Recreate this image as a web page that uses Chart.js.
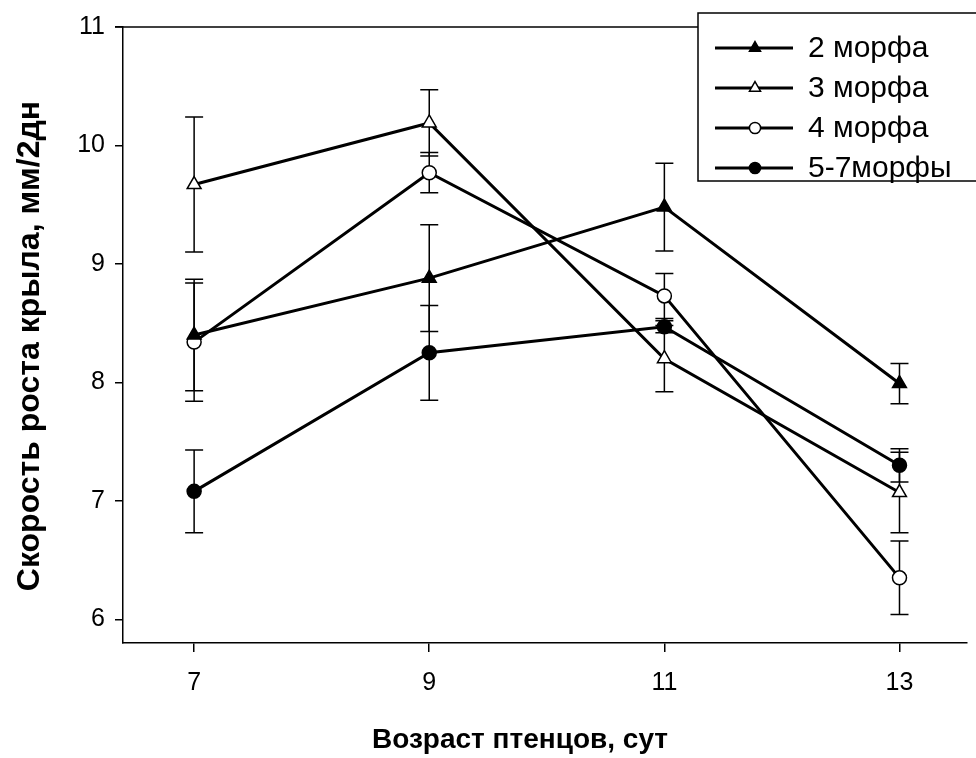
<!DOCTYPE html>
<html>
<head>
<meta charset="utf-8">
<script src="https://cdn.jsdelivr.net/npm/chart.js@4"></script>
<style>
  html, body { margin: 0; padding: 0; background: #fff; overflow: hidden; }
  #wrap { width: 976px; height: 758px; }
</style>
</head>
<body>
<div id="wrap"><canvas id="myChart" width="976" height="758"></canvas></div>
<script>
// ages (days) and wing growth rate, mm / 2 days
var ages = [7, 9, 11, 13];
var morph2 = [8.40, 8.88, 9.48, 7.99];
var morph2Err = [0.47, 0.45, 0.37, 0.17];
var morph3 = [9.67, 10.19, 8.20, 7.07];
var morph3Err = [0.57, 0.28, 0.28, 0.34];
var morph4 = [8.34, 9.77, 8.73, 6.35];
var morph4Err = [0.50, 0.17, 0.19, 0.31];
var morph57 = [7.08, 8.25, 8.47, 7.30];
var morph57Err = [0.35, 0.40, 0.05, 0.14];
var labels = ['2 морфа', '3 морфа', '4 морфа', '5-7морфы'];
var xTicks = [7, 9, 11, 13];
var yTicks = [6, 7, 8, 9, 10, 11];

var font = "'Liberation Sans', Arial, sans-serif";

function pts(vals) {
    return vals.map(function(v, i) { return { x: ages[i], y: v }; });
}

function makeSet(label, vals, errs, style, filled, radius) {
    return {
        label: label,
        data: pts(vals),
        errors: errs,
        borderColor: '#000',
        borderWidth: 3,
        pointStyle: style,
        pointRadius: radius,
        pointHoverRadius: radius,
        pointBorderWidth: 1.5,
        pointBackgroundColor: filled ? '#000' : '#fff',
        pointBorderColor: '#000',
        fill: false,
        tension: 0
    };
}

// error bars drawn under the markers
var errorBars = {
    id: 'errorBars',
    beforeDatasetsDraw: function(chart) {
        var ctx = chart.ctx;
        var xs = chart.scales.x, ys = chart.scales.y;
        ctx.save();
        ctx.strokeStyle = '#000';
        ctx.lineWidth = 1.5;
        chart.data.datasets.forEach(function(ds) {
            ds.data.forEach(function(p, i) {
                var e = ds.errors[i];
                var px = xs.getPixelForValue(p.x);
                var top = ys.getPixelForValue(p.y + e);
                var bot = ys.getPixelForValue(p.y - e);
                ctx.beginPath();
                ctx.moveTo(px, top); ctx.lineTo(px, bot);
                ctx.moveTo(px - 9, top); ctx.lineTo(px + 9, top);
                ctx.moveTo(px - 9, bot); ctx.lineTo(px + 9, bot);
                ctx.stroke();
            });
        });
        ctx.restore();
    }
};

// frame top line, axis titles and boxed legend
var extras = {
    id: 'extras',
    afterDraw: function(chart) {
        var ctx = chart.ctx;
        var a = chart.chartArea;
        ctx.save();
        ctx.strokeStyle = '#000';
        ctx.lineWidth = 1.5;
        ctx.beginPath();
        ctx.moveTo(a.left - 8, a.top); ctx.lineTo(a.right, a.top);
        ctx.stroke();

        ctx.fillStyle = '#000';
        ctx.font = 'bold 28px ' + font;
        ctx.textAlign = 'center';
        ctx.textBaseline = 'middle';
        ctx.fillText('Возраст птенцов, сут', 520, 740);
        ctx.font = 'bold 32px ' + font;
        ctx.translate(30, 346);
        ctx.rotate(-Math.PI / 2);
        ctx.fillText('Скорость роста крыла, мм/2дн', 0, 0);
        ctx.restore();

        // legend
        ctx.save();
        ctx.fillStyle = '#fff';
        ctx.fillRect(698, 13, 290, 168);
        ctx.strokeStyle = '#000';
        ctx.lineWidth = 1.5;
        ctx.strokeRect(698, 13, 290, 168);
        ctx.font = '30px ' + font;
        ctx.textAlign = 'left';
        ctx.textBaseline = 'middle';
        var rows = [48, 88, 128, 168];
        chart.data.datasets.forEach(function(ds, i) {
            var y = rows[i];
            ctx.strokeStyle = '#000';
            ctx.lineWidth = 3;
            ctx.beginPath();
            ctx.moveTo(715, y); ctx.lineTo(793, y);
            ctx.stroke();
            ctx.fillStyle = ds.pointBackgroundColor;
            ctx.strokeStyle = '#000';
            ctx.lineWidth = 1.5;
            Chart.helpers.drawPoint(ctx, {
                pointStyle: ds.pointStyle,
                radius: ds.pointRadius * 0.8,
                borderWidth: 1.5
            }, 755, y);
            ctx.fillStyle = '#000';
            ctx.fillText(ds.label, 808, y + 1);
        });
        ctx.restore();
    }
};

var chr = document.getElementById('myChart').getContext('2d');
var myChart = new Chart(chr, {
    type: 'line',
    data: {
        datasets: [
            makeSet(labels[0], morph2, morph2Err, 'triangle', true, 8),
            makeSet(labels[1], morph3, morph3Err, 'triangle', false, 8),
            makeSet(labels[2], morph4, morph4Err, 'circle', false, 7),
            makeSet(labels[3], morph57, morph57Err, 'circle', true, 7)
        ]
    },
    options: {
        responsive: false,
        animation: false,
        layout: { padding: { top: 27, right: 0, left: 0, bottom: 0 } },
        plugins: {
            legend: { display: false },
            tooltip: { enabled: false }
        },
        scales: {
            x: {
                type: 'linear',
                min: 6.395,
                max: 13.57,
                afterBuildTicks: function(s) { s.ticks = xTicks.map(function(v) { return { value: v }; }); },
                afterFit: function(s) { s.height = 115; },
                grid: { drawOnChartArea: false, tickLength: 9, color: '#000', lineWidth: 1.5 },
                border: { display: true, color: '#000', width: 1.5 },
                ticks: {
                    color: '#000',
                    font: { family: font, size: 25 },
                    padding: 16,
                    maxRotation: 0
                }
            },
            y: {
                min: 5.8,
                max: 11,
                afterBuildTicks: function(s) { s.ticks = yTicks.map(function(v) { return { value: v }; }); },
                afterFit: function(s) { s.width = 123; },
                grid: { drawOnChartArea: false, tickLength: 8, color: '#000', lineWidth: 1.5 },
                border: { display: true, color: '#000', width: 1.5 },
                ticks: {
                    color: '#000',
                    font: { family: font, size: 25 },
                    padding: 10
                }
            }
        }
    },
    plugins: [errorBars, extras]
});
</script>
</body>
</html>
